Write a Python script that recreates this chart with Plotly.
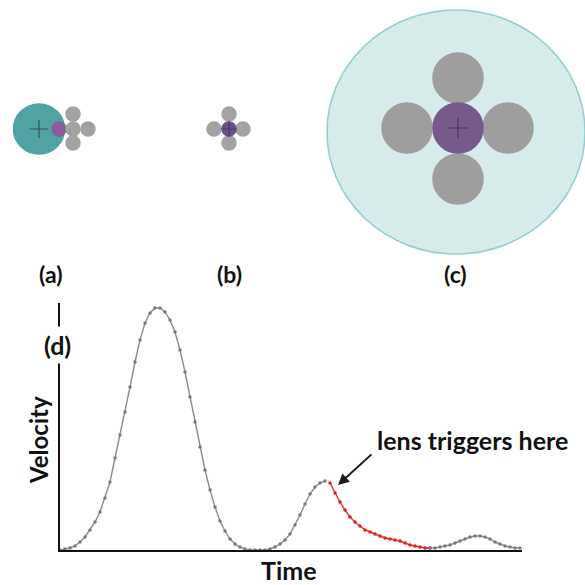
import plotly.graph_objects as go

# ---------------- data: velocity curve (time steps, velocity in arbitrary units) ----------------
time_steps = list(range(0, 93))
velocity = [0, 1, 2, 4, 8, 13, 20, 28, 38, 52,
            68, 92, 115, 138, 163, 188, 210, 227, 237, 242,
            242, 238, 230, 218, 200, 178, 153, 128, 103, 80,
            60, 43, 29, 19, 11, 6, 3, 1, 0, 0,
            0, 0, 1, 3, 6, 10, 16, 25, 35, 46,
            56, 63, 67, 69, 67, 57, 48, 40, 33, 28,
            24, 20, 18, 16, 14, 12, 11, 10, 9, 7,
            5, 4, 3, 2, 2, 2, 3, 4, 5, 7,
            9, 11, 13, 14, 14, 13, 11, 8, 6, 4,
            3, 2, 2]
lens_start = 54   # index where the lens triggers
lens_end = 74     # index where the red section ends

# ---------------- data: circle diagrams (a), (b), (c) in pixel units ----------------
circle_cx = [39, 59, 73, 73, 88, 73,
             229, 214, 243, 229, 229,
             456, 458, 407, 508, 458, 458]
circle_cy = [129, 129, 114, 129, 129, 143,
             114, 129, 129, 143, 129,
             132, 78, 128, 128, 179, 128]
circle_rx = [25.5, 7, 7, 7, 7, 7,
             7, 7, 7, 7, 7,
             129, 25, 25, 25, 25, 25]
circle_ry = [25, 7, 7, 7, 7, 7,
             7, 7, 7, 7, 7,
             122, 25, 25, 25, 25, 25]
circle_fill = ["#50a2a3", "#8b5e9a", "#a2a2a2", "#a2a2a2", "#a2a2a2", "#a2a2a2",
               "#a2a2a2", "#a2a2a2", "#a2a2a2", "#a2a2a2", "#6e4f8e",
               "#d7eaec", "#9e9e9e", "#9e9e9e", "#9e9e9e", "#9e9e9e", "#765a8c"]
circle_line = ["#50a2a3", "#8b5e9a", "#a2a2a2", "#a2a2a2", "#a2a2a2", "#a2a2a2",
               "#a2a2a2", "#a2a2a2", "#a2a2a2", "#a2a2a2", "#6e4f8e",
               "#94cdce", "#9e9e9e", "#9e9e9e", "#9e9e9e", "#9e9e9e", "#765a8c"]
plus_x = [39, 229, 458]
plus_y = [129, 129, 128]
plus_size = [13, 11, 15]

panel_labels = ["(a)", "(b)", "(c)"]
panel_label_x = [50, 229, 455]
panel_label_y = [274, 274, 274]

W = H = 585
fig = go.Figure()

gray = "#8c8c8c"
red = "#e2312b"

# gray part before lens
fig.add_trace(go.Scatter(
    x=time_steps[:lens_start], y=velocity[:lens_start], mode="lines+markers",
    line=dict(color=gray, width=1.4), marker=dict(color="#7a7a7a", size=3.5),
    xaxis="x", yaxis="y", hoverinfo="skip"))
# red part (lens)
fig.add_trace(go.Scatter(
    x=time_steps[lens_start:lens_end + 1], y=velocity[lens_start:lens_end + 1],
    mode="lines+markers",
    line=dict(color=red, width=1.4), marker=dict(color="#d9221c", size=3.5),
    xaxis="x", yaxis="y", hoverinfo="skip"))
# gray part after
fig.add_trace(go.Scatter(
    x=time_steps[lens_end:], y=velocity[lens_end:], mode="lines+markers",
    line=dict(color=gray, width=1.4), marker=dict(color="#7a7a7a", size=3.5),
    xaxis="x", yaxis="y", hoverinfo="skip"))

# plus signs on the circle diagrams
fig.add_trace(go.Scatter(
    x=plus_x, y=plus_y, mode="markers",
    marker=dict(symbol="cross-thin", size=plus_size,
                line=dict(color="#333333", width=1.2)),
    xaxis="x2", yaxis="y2", hoverinfo="skip"))

shapes = []
for cx, cy, rx, ry, fc, lc in zip(circle_cx, circle_cy, circle_rx, circle_ry,
                                  circle_fill, circle_line):
    shapes.append(dict(type="circle", xref="x2", yref="y2",
                       x0=cx - rx, x1=cx + rx, y0=cy - ry, y1=cy + ry,
                       fillcolor=fc, line=dict(color=lc, width=1.5),
                       layer="below"))

FONT = "Lato"
annotations = []
for lab, lx, ly in zip(panel_labels, panel_label_x, panel_label_y):
    annotations.append(dict(text="<b>" + lab + "</b>", x=lx, y=ly,
                            xref="x2", yref="y2", showarrow=False,
                            font=dict(family=FONT, size=23, color="#111111")))

annotations += [
    dict(text="<b>(d)</b>", x=57, y=345, xref="x2", yref="y2", showarrow=False,
         font=dict(family=FONT, size=25, color="#111111"),
         bgcolor="white", borderpad=3),
    dict(text="<b>Velocity</b>", x=38, y=440, xref="x2", yref="y2",
         showarrow=False, textangle=-90,
         font=dict(family=FONT, size=24, color="#111111")),
    dict(text="<b>Time</b>", x=289, y=570, xref="x2", yref="y2",
         showarrow=False, font=dict(family=FONT, size=25, color="#111111")),
    dict(text="<b>lens triggers here</b>", x=472, y=440, xref="x2", yref="y2",
         showarrow=False, font=dict(family=FONT, size=25, color="#111111")),
    dict(text="", x=time_steps[lens_start] + 1.6, y=velocity[lens_start] - 2,
         xref="x", yref="y", showarrow=True, arrowhead=2, arrowsize=1.1,
         arrowwidth=2, arrowcolor="#1a1a1a", ax=35, ay=-32),
]

fig.update_layout(
    width=W, height=H, margin=dict(l=0, r=0, t=0, b=0),
    paper_bgcolor="white", plot_bgcolor="rgba(0,0,0,0)",
    showlegend=False,
    xaxis=dict(domain=[60 / W, 522 / W], range=[0, 92.4], showline=True,
               linecolor="#111111", linewidth=2, showgrid=False,
               zeroline=False, showticklabels=False, ticks=""),
    yaxis=dict(domain=[1 - 550 / H, 1 - 303 / H], range=[0, 247], showline=True,
               linecolor="#111111", linewidth=2, showgrid=False,
               zeroline=False, showticklabels=False, ticks=""),
    xaxis2=dict(domain=[0, 1], range=[0, W], visible=False, anchor="y2"),
    yaxis2=dict(domain=[0, 1], range=[H, 0], visible=False, anchor="x2"),
    shapes=shapes, annotations=annotations,
)

fig.write_html("out.html", config={"displayModeBar": False},
               post_script="document.body.style.margin='0';document.body.style.overflow='hidden';")
